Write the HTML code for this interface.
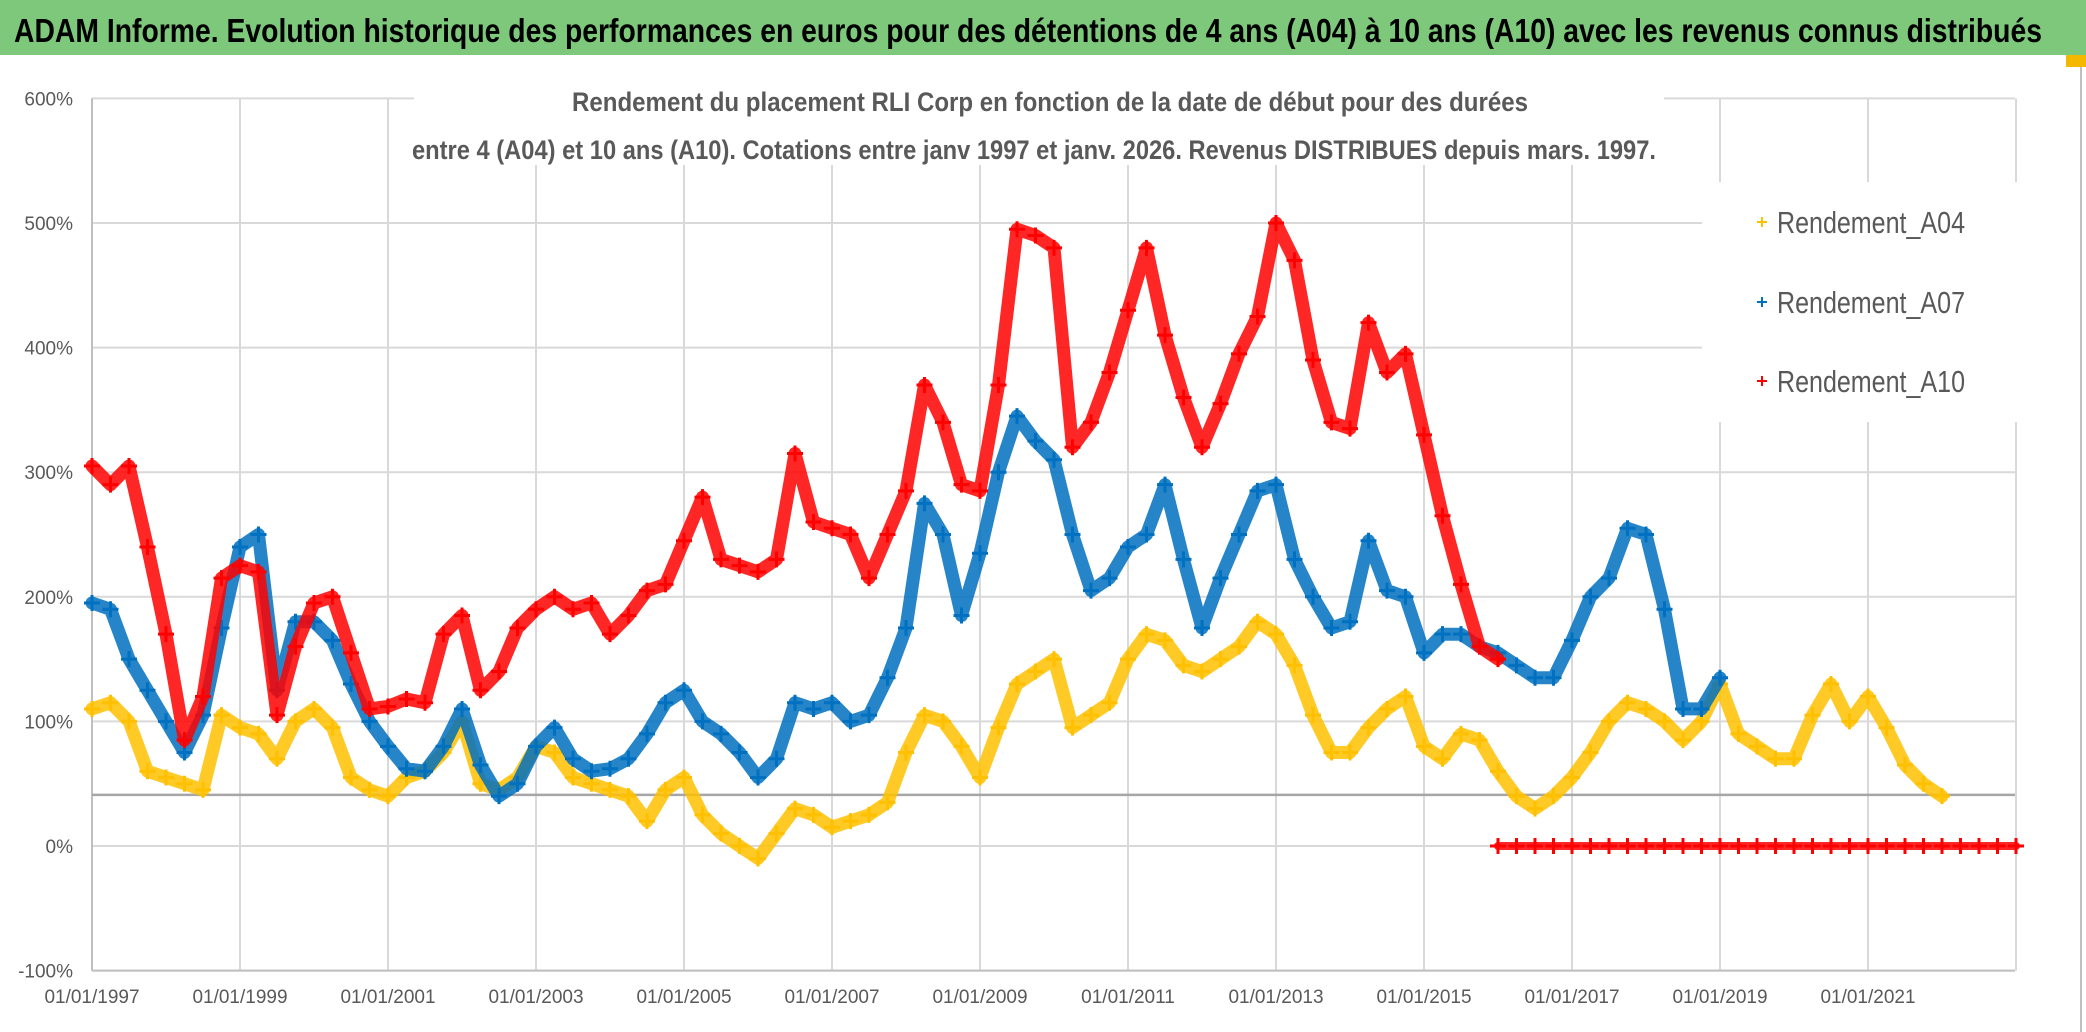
<!DOCTYPE html>
<html><head><meta charset="utf-8"><style>
html,body{margin:0;padding:0;background:#fff;}
svg{display:block;font-family:"Liberation Sans",sans-serif;}
</style></head><body>
<svg id="chart" width="2086" height="1032" viewBox="0 0 2086 1032">
<rect x="0" y="0" width="2086" height="1032" fill="#fff"/>
<rect x="0" y="0" width="2086" height="55" fill="#7dc87b"/>
<text x="14" y="42" font-size="33" font-weight="bold" fill="#000" textLength="2028" lengthAdjust="spacingAndGlyphs">ADAM Informe. Evolution historique des performances en euros pour des détentions de 4 ans (A04) à 10 ans (A10) avec les revenus connus distribués</text>
<line x1="2081" y1="55" x2="2081" y2="1032" stroke="#bfbfbf" stroke-width="2"/>
<rect x="2066" y="55" width="20" height="12" fill="#f5b800"/>
<g id="grid"></g>
<g id="marks"></g>
<rect x="414" y="60" width="1250" height="105" fill="#fff"/>
<text x="1050" y="111" font-size="27" font-weight="bold" fill="#595959" text-anchor="middle" textLength="956" lengthAdjust="spacingAndGlyphs">Rendement du placement RLI Corp en fonction de la date de début pour des durées</text>
<text x="1034" y="159" font-size="27" font-weight="bold" fill="#595959" text-anchor="middle" textLength="1244" lengthAdjust="spacingAndGlyphs">entre 4 (A04) et 10 ans (A10). Cotations entre janv 1997 et janv. 2026. Revenus DISTRIBUES depuis mars. 1997.</text>
<g>
<rect x="1702" y="182" width="330" height="240" fill="#fff"/>
<g>
<path d="M1757 222h10M1762 217v10" stroke="#ffc000" stroke-width="2"/>
<text x="1777" y="233" font-size="31" fill="#595959" textLength="188" lengthAdjust="spacingAndGlyphs">Rendement_A04</text></g>
<g>
<path d="M1757 302h10M1762 297v10" stroke="#0070c0" stroke-width="2"/>
<text x="1777" y="313" font-size="31" fill="#595959" textLength="188" lengthAdjust="spacingAndGlyphs">Rendement_A07</text></g>
<g>
<path d="M1757 381h10M1762 376v10" stroke="#ff0000" stroke-width="2"/>
<text x="1777" y="392" font-size="31" fill="#595959" textLength="188" lengthAdjust="spacingAndGlyphs">Rendement_A10</text></g>
</g>
</svg>
<script>
const yTicks=[600,500,400,300,200,100,0,-100];
const xTickYears=[1997,1999,2001,2003,2005,2007,2009,2011,2013,2015,2017,2019,2021];
const xTickLabels=["01/01/1997","01/01/1999","01/01/2001","01/01/2003","01/01/2005","01/01/2007","01/01/2009","01/01/2011","01/01/2013","01/01/2015","01/01/2017","01/01/2019","01/01/2021"];
const refLineValue=41;
const a04Start=1997.0;
const a04=[110,115,100,60,55,50,45,105,95,90,70,100,110,95,55,45,40,55,60,75,100,50,45,55,80,75,55,50,45,40,20,45,55,25,10,0,-10,10,30,25,15,20,25,35,75,105,100,80,55,95,130,140,150,95,105,115,150,170,165,145,140,150,160,180,170,145,105,75,75,95,110,120,80,70,90,85,60,40,30,40,55,75,100,115,110,100,85,100,130,90,80,70,70,105,130,100,120,95,65,50,40];
const a07Start=1997.0;
const a07=[195,190,150,125,100,75,105,175,240,250,125,180,180,165,130,100,80,62,60,80,110,65,40,50,80,95,70,60,62,70,90,115,125,100,90,75,55,70,115,110,115,100,105,135,175,275,250,185,235,300,345,325,310,250,205,215,240,250,290,230,175,215,250,285,290,230,200,175,180,245,205,200,155,170,170,160,155,145,135,135,165,200,215,255,250,190,110,110,135];
const a10Start=1997.0;
const a10=[305,290,305,240,170,85,120,215,225,220,105,160,195,200,155,110,112,118,115,170,185,125,140,175,190,200,190,195,170,185,205,210,245,280,230,225,220,230,315,260,255,250,215,250,285,370,340,290,285,370,495,490,480,320,340,380,430,480,410,360,320,355,395,425,500,470,390,340,335,420,380,395,330,265,210,160,150];
const a10ZeroStart=2016.0;
const a10Zero=[0,0,0,0,0,0,0,0,0,0,0,0,0,0,0,0,0,0,0,0,0,0,0,0,0,0,0,0,0];
const stepYears=0.25;

const NS="http://www.w3.org/2000/svg";
const X0=92,PXYEAR=74,Y0=846,PXPCT=1.246,XR=2015;
function xs(yr){return X0+(yr-1997)*PXYEAR;}
function ys(v){return Y0-v*PXPCT;}
const grid=document.getElementById('grid');
const marks=document.getElementById('marks');
function el(tag,attrs,parent){const e=document.createElementNS(NS,tag);for(const k in attrs)e.setAttribute(k,attrs[k]);parent.appendChild(e);return e;}

yTicks.forEach(v=>{
  const l=el('line',{x1:X0,x2:XR,y1:ys(v),y2:ys(v),stroke:'#d9d9d9','stroke-width':2},grid);
  
  
  const t=el('text',{x:73,y:ys(v)+7,'font-size':19,fill:'#595959','text-anchor':'end'},grid);
  t.textContent=v+'%';
  
  
});
xTickYears.forEach((yr,i)=>{
  const l=el('line',{x1:xs(yr),x2:xs(yr),y1:ys(600),y2:ys(-100),stroke:'#d9d9d9','stroke-width':2},grid);
  
  
  const t=el('text',{x:xs(yr),y:1003,'font-size':19,fill:'#595959','text-anchor':'middle'},grid);
  t.textContent=xTickLabels[i];
  
  
});
[2023].forEach(yr=>{
  const l=el('line',{x1:xs(yr),x2:xs(yr),y1:ys(600),y2:ys(-100),stroke:'#d9d9d9','stroke-width':2},grid);
  
  
});
const yAxis=el('line',{x1:X0,x2:X0,y1:ys(600),y2:ys(-100),stroke:'#bfbfbf','stroke-width':2},grid);


const xAxis=el('line',{x1:X0,x2:XR,y1:ys(-100),y2:ys(-100),stroke:'#bfbfbf','stroke-width':2},grid);


const ref=el('line',{x1:X0,x2:XR,y1:ys(refLineValue),y2:ys(refLineValue),stroke:'#a6a6a6','stroke-width':2.5},grid);



function series(vals,start,color,name,width){
  const g=el('g',{},marks);
  
  
  const pts=vals.map((v,i)=>xs(start+i*stepYears).toFixed(1)+','+ys(v).toFixed(1)).join(' ');
  const pl=el('polyline',{points:pts,fill:'none',stroke:color,'stroke-width':width,'stroke-linejoin':'round','stroke-linecap':'round','stroke-opacity':0.85},g);
  
  
  vals.forEach((v,i)=>{
    const x=xs(start+i*stepYears),y=ys(v);
    const p=el('path',{d:`M${x-8} ${y}h16M${x} ${y-8}v16`,stroke:color,'stroke-width':3},g);
    
    
  });
}
series(a04,a04Start,'#ffc000','series-a04',13);
series(a07,a07Start,'#0070c0','series-a07',13);
series(a10,a10Start,'#ff0000','series-a10',13);
series(a10Zero,a10ZeroStart,'#ff0000','series-a10-zero',8);
</script>
</body></html>
